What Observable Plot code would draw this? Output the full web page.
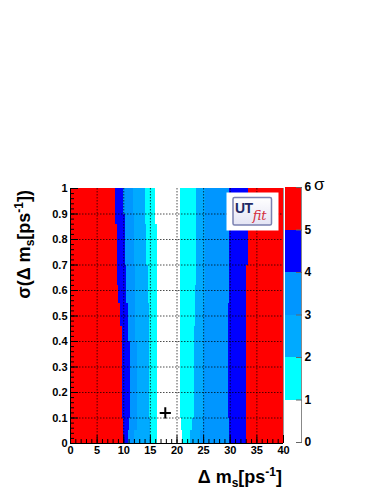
<!DOCTYPE html>
<html><head><meta charset="utf-8">
<script src="https://cdn.jsdelivr.net/npm/d3@7"></script>
<script src="https://cdn.jsdelivr.net/npm/@observablehq/plot@0.6"></script>
<style>
html,body{margin:0;padding:0;background:#fff;}
#chart{position:relative;width:382px;height:494px;overflow:hidden;background:#fff;}
#chart svg{position:absolute;left:0;top:0;}
</style></head><body><div id="chart"></div>
<script>
// sigma levels (0-1, 1-2, ... 5-6) and their colours
const levels = [0, 1, 2, 3, 4, 5];
const levelColors = ["#ffffff", "#00ffff", "#00aaff", "#0096ff", "#0000ff", "#ff0000"];
const levelTicks = [0, 1, 2, 3, 4, 5, 6];

// horizontal bands of sigma(Δm_s)
const yBandEdges = [0, 0.05, 0.10, 0.40, 0.46, 0.55, 0.62, 0.70, 0.86, 0.90, 1.0];
// Δm_s where the level changes, left to right, for each band (bottom to top)
const bandBoundaries = [
  [10.0, 10.9, 12.0, 15.0, 16.4, 21.1, 22.6, 24.5, 29.9, 33.1],
  [10.0, 11.0, 12.5, 15.0, 16.4, 20.9, 23.0, 25.0, 29.8, 33.1],
  [9.7, 11.2, 12.5, 14.8, 16.4, 20.7, 23.3, 25.2, 29.6, 33.1],
  [9.7, 10.8, 12.3, 14.8, 16.4, 20.7, 23.3, 25.2, 29.6, 33.1],
  [9.4, 10.8, 12.3, 14.8, 16.4, 20.7, 23.4, 25.2, 29.6, 33.1],
  [9.1, 10.6, 12.2, 14.6, 16.4, 20.7, 23.5, 25.3, 29.9, 33.1],
  [8.9, 10.6, 12.2, 14.6, 16.4, 20.7, 23.7, 25.3, 29.9, 33.1],
  [8.8, 10.3, 12.0, 14.3, 16.4, 20.7, 23.7, 25.3, 29.9, 33.4],
  [8.44, 10.3, 12.0, 14.0, 15.9, 20.7, 23.7, 25.3, 29.9, 33.4],
  [8.44, 10.0, 11.8, 14.0, 15.9, 20.7, 23.7, 25.3, 29.9, 33.4]
];
// level of each segment between the boundaries
const segmentLevels = [5, 4, 3, 2, 1, 0, 1, 2, 3, 4, 5];

const xDomain = [0, 40];
const yDomain = [0, 1];
const xTicks = [0, 5, 10, 15, 20, 25, 30, 35, 40];
const yTicks = [0, 0.1, 0.2, 0.3, 0.4, 0.5, 0.6, 0.7, 0.8, 0.9, 1];
const xMinor = d3.range(0, 41, 1);
const yMinor = d3.range(0, 51, 1).map(i => i / 50);

// best-fit marker
const bestFit = [{x: 17.8, y: 0.12}];

// build cells
const cells = [];
bandBoundaries.forEach((b, i) => {
  const edges = [xDomain[0], ...b, xDomain[1]];
  segmentLevels.forEach((lv, j) => {
    cells.push({x1: edges[j], x2: edges[j + 1], y1: yBandEdges[i], y2: yBandEdges[i + 1], level: lv});
  });
});

const FONT = "'Liberation Sans', Arial, Helvetica, sans-serif";
const W = 382, H = 494;
const colorScale = {type: "ordinal", domain: levels, range: levelColors};

const main = Plot.plot({
  width: W, height: H,
  marginLeft: 70, marginRight: 99, marginTop: 188, marginBottom: 51,
  style: {fontFamily: FONT, background: "transparent", color: "#000"},
  x: {domain: xDomain},
  y: {domain: yDomain},
  color: colorScale,
  marks: [
    Plot.rect(cells, {x1: "x1", x2: "x2", y1: "y1", y2: "y2", fill: "level", shapeRendering: "crispEdges"}),
    Plot.gridX(xTicks.slice(1, -1), {stroke: "#000", strokeOpacity: 0.7, strokeDasharray: "1.5,1.5"}),
    Plot.gridY(yTicks.slice(1, -1), {stroke: "#000", strokeOpacity: 0.7, strokeDasharray: "1.5,1.5"}),
    Plot.ruleX([xDomain[1]], {stroke: "#999"}),
    Plot.ruleX([xDomain[0]], {stroke: "#000"}),
    Plot.ruleY([yDomain[0]], {stroke: "#000"}),
    Plot.axisX(xMinor, {tickSize: -4, fill: "none", label: null}),
    Plot.axisX(xTicks, {tickSize: -8, fill: "none", label: null}),
    Plot.axisX(xTicks, {tickSize: 0, tickPadding: 3, label: null, fontSize: 11, fontWeight: "bold", fill: "#000", tickFormat: d => String(d)}),
    Plot.axisY(yMinor, {tickSize: -4, fill: "none", label: null}),
    Plot.axisY(yTicks, {tickSize: -8, fill: "none", label: null}),
    Plot.axisY(yTicks, {tickSize: 0, tickPadding: 3, label: null, fontSize: 11, fontWeight: "bold", fill: "#000", tickFormat: d => String(+d.toFixed(1))}),
    Plot.dot(bestFit, {x: "x", y: "y", symbol: "plus", r: 3.7, stroke: "#000", strokeWidth: 2})
  ]
});

const cbarRows = levels.map(l => ({lo: l, hi: l + 1, level: l}));
const cbar = Plot.plot({
  width: W, height: H,
  marginLeft: 285, marginRight: 81, marginTop: 187, marginBottom: 52,
  style: {fontFamily: FONT, background: "transparent", color: "#000"},
  x: {domain: [0, 1], axis: null},
  y: {domain: [0, 6], axis: null},
  color: colorScale,
  marks: [
    Plot.rect(cbarRows, {x1: () => 0, x2: () => 1, y1: "lo", y2: "hi", fill: "level", shapeRendering: "crispEdges"}),
    Plot.ruleX([1], {stroke: "#888"}),
    Plot.axisY(levelTicks, {anchor: "right", tickSize: -6, fill: "none", label: null, stroke: "#666"}),
    Plot.axisY(levelTicks, {anchor: "right", tickSize: 0, tickPadding: 3, label: null, fontSize: 12, fontWeight: "bold", fill: "#000", tickFormat: d => String(d)})
  ]
});

const root = document.getElementById("chart");
root.appendChild(main);
root.appendChild(cbar);

// titles and decorations
const svg = d3.select(cbar);
const g = svg.append("g").attr("font-family", FONT).attr("fill", "#000").attr("text-anchor", "start");

// colorbar title
g.append("text").attr("x", 314).attr("y", 190).attr("font-size", 17).attr("text-anchor", "start").text("σ");

// x title
const xt = g.append("text").attr("x", 282).attr("y", 483).attr("text-anchor", "end")
  .attr("font-size", 18).attr("font-weight", "bold");
xt.append("tspan").text("Δ m");
xt.append("tspan").attr("dy", 4).attr("font-size", 12).text("s");
xt.append("tspan").attr("dy", -4).text("[ps");
xt.append("tspan").attr("dy", -7).attr("font-size", 12).text("-1");
xt.append("tspan").attr("dy", 7).text("]");

// y title
const yt = g.append("text").attr("transform", "translate(30,190) rotate(-90)").attr("text-anchor", "end")
  .attr("font-size", 18).attr("font-weight", "bold");
yt.append("tspan").text("σ(Δ m");
yt.append("tspan").attr("dy", 4).attr("font-size", 12).text("s");
yt.append("tspan").attr("dy", -4).text("[ps");
yt.append("tspan").attr("dy", -7).attr("font-size", 12).text("-1");
yt.append("tspan").attr("dy", 7).text("])");

// UTfit logo
const defs = svg.append("defs");
const grad = defs.append("linearGradient").attr("id", "lg").attr("x1", 0).attr("y1", 0).attr("x2", 0).attr("y2", 1);
grad.append("stop").attr("offset", "0%").attr("stop-color", "#ffffff");
grad.append("stop").attr("offset", "100%").attr("stop-color", "#e4e4f4");
const logo = svg.append("g").attr("text-anchor", "start");
logo.append("rect").attr("x", 226.5).attr("y", 192.5).attr("width", 52).attr("height", 38).attr("fill", "#fff");
logo.append("rect").attr("x", 233).attr("y", 197.5).attr("width", 38.5).attr("height", 27.5)
  .attr("fill", "url(#lg)").attr("stroke", "#7a80b0").attr("stroke-width", 1.5).attr("rx", 1.5);
const lt = logo.append("text").attr("x", 235).attr("y", 213).attr("text-anchor", "start");
lt.append("tspan").attr("font-family", FONT).attr("font-weight", "bold")
  .attr("font-size", 14).attr("fill", "#222a66").attr("letter-spacing", -0.5).text("UT");
lt.append("tspan").attr("dx", 0).attr("dy", 7).attr("font-family", "'DejaVu Serif', 'Liberation Serif', serif")
  .attr("font-style", "italic").attr("font-size", 13).attr("fill", "#d42c3c").text("fit");
</script>
</body></html>
